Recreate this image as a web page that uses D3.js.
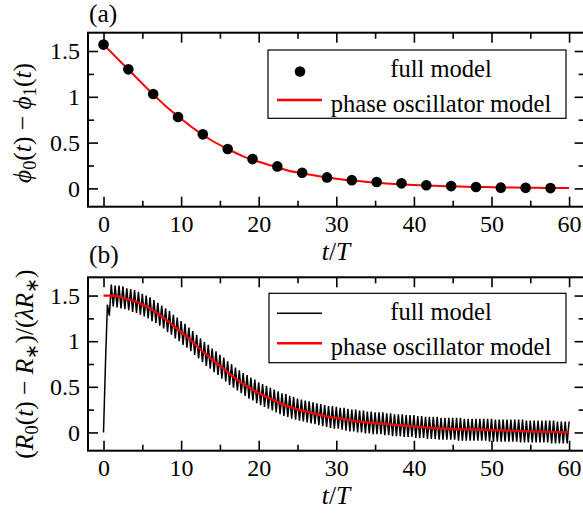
<!DOCTYPE html>
<html><head><meta charset="utf-8">
<script src="https://cdn.jsdelivr.net/npm/d3@7"></script>
<style>
body{margin:0;background:#fff}
svg{display:block}
text{font-family:"Liberation Serif","Times New Roman",serif;fill:#000}
</style>
</head><body>
<svg id="c" width="583" height="515"></svg>
<script>
// ---------- data ----------
const xTicks = [0, 10, 20, 30, 40, 50, 60];
const xMinorTicks = [5, 15, 25, 35, 45, 55];
const yTicks = [0, 0.5, 1, 1.5];
const yTickLabels = ["0", "0.5", "1", "1.5"];
const yMinorTicks = [0.25, 0.75, 1.25];
const legendLabels = ["full model", "phase oscillator model"];

// panel (a): full model (dots)
const dotTimes = [0, 3.2, 6.4, 9.6, 12.8, 16, 19.2, 22.4, 25.6, 28.8, 32, 35.2, 38.4, 41.6, 44.8, 48, 51.2, 54.4, 57.6];
const dotValues = [1.57, 1.30, 1.03, 0.78, 0.59, 0.43, 0.32, 0.24, 0.17, 0.12, 0.09, 0.07, 0.055, 0.035, 0.025, 0.015, 0.008, 0.006, 0.003];

// panel (a): phase oscillator model (red line)
const phaseATimes = [0,2,4,6,8,10,12,14,16,18,20,22,24,26,28,30,32,34,36,38,40,42,44,46,48,50,52,54,56,58,60];
const phaseAValues = [1.571,1.40,1.23,1.06,0.90,0.76,0.63,0.52,0.43,0.35,0.29,0.24,0.19,0.16,0.13,0.105,0.085,0.07,0.057,0.046,0.037,0.03,0.024,0.02,0.016,0.013,0.01,0.008,0.006,0.004,0.003];

// panel (b): phase oscillator model (red line)
const phaseBTimes = [0,1,2,3,4,5,6,7,8,9,10,11,12,13,14,15,16,17,18,19,20,21,22,23,24,25,26,27,28,29,30,32,34,36,38,40,42,44,46,48,50,52,54,56,58,60];
const phaseBValues = [1.50,1.50,1.49,1.46,1.44,1.40,1.36,1.30,1.24,1.17,1.10,1.03,0.95,0.87,0.80,0.73,0.66,0.59,0.53,0.48,0.43,0.39,0.35,0.31,0.28,0.25,0.23,0.21,0.19,0.17,0.16,0.13,0.11,0.095,0.08,0.065,0.05,0.04,0.035,0.03,0.025,0.02,0.015,0.01,0.005,0.0];

// panel (b): full model, sampled every 0.25 T (four samples per row = one T)
const fullStart = 0, fullStep = 0.25;
const fullValues = [
 0.00,0.75,1.40,1.28,
 1.62,1.38,1.61,1.37,
 1.61,1.36,1.60,1.35,
 1.58,1.34,1.57,1.32,
 1.56,1.31,1.54,1.29,
 1.52,1.27,1.50,1.25,
 1.48,1.22,1.45,1.20,
 1.42,1.17,1.39,1.14,
 1.36,1.10,1.33,1.07,
 1.29,1.03,1.26,1.00,
 1.22,0.96,1.19,0.93,
 1.15,0.89,1.11,0.85,
 1.07,0.81,1.03,0.77,
 0.99,0.73,0.96,0.70,
 0.92,0.66,0.89,0.63,
 0.85,0.59,0.82,0.56,
 0.78,0.52,0.75,0.49,
 0.71,0.46,0.68,0.43,
 0.65,0.40,0.63,0.37,
 0.60,0.35,0.58,0.32,
 0.55,0.30,0.53,0.28,
 0.51,0.26,0.49,0.24,
 0.47,0.22,0.45,0.20,
 0.43,0.18,0.42,0.17,
 0.40,0.15,0.39,0.14,
 0.37,0.13,0.36,0.12,
 0.35,0.11,0.34,0.10,
 0.33,0.09,0.32,0.08,
 0.31,0.07,0.30,0.06,
 0.29,0.05,0.29,0.04,
 0.28,0.04,0.27,0.03,
 0.27,0.02,0.26,0.01,
 0.25,0.01,0.25,0.00,
 0.24,0.00,0.24,-0.01,
 0.23,-0.01,0.23,-0.02,
 0.22,-0.02,0.22,-0.02,
 0.22,-0.03,0.21,-0.03,
 0.21,-0.04,0.20,-0.04,
 0.20,-0.04,0.20,-0.05,
 0.19,-0.05,0.19,-0.05,
 0.19,-0.06,0.18,-0.06,
 0.18,-0.06,0.17,-0.07,
 0.17,-0.07,0.17,-0.07,
 0.17,-0.08,0.16,-0.08,
 0.16,-0.08,0.16,-0.08,
 0.16,-0.08,0.16,-0.09,
 0.16,-0.09,0.15,-0.09,
 0.15,-0.09,0.15,-0.09,
 0.15,-0.09,0.15,-0.09,
 0.15,-0.09,0.15,-0.10,
 0.15,-0.10,0.14,-0.10,
 0.14,-0.10,0.14,-0.10,
 0.14,-0.10,0.14,-0.10,
 0.14,-0.10,0.14,-0.11,
 0.14,-0.11,0.13,-0.11,
 0.13,-0.11,0.13,-0.11,
 0.13,-0.11,0.13,-0.11,
 0.13,-0.11,0.13,-0.12,
 0.13,-0.12,0.12,-0.12,
 0.12,-0.12,0.12,-0.12,
 0.12
];

// ---------- drawing ----------
const svg = d3.select("#c");
const FS = 24;      // tick labels
const FL = 24.5;    // legend
const FT = 25.5;    // axis titles
const x = d3.scaleLinear().domain([-2, 62]).range([88, 584.6]);
const xLeft = x.range()[0], xRight = x.range()[1];

function panel(opt) {
  const y = d3.scaleLinear().domain([-0.2, 1.7]).range([opt.bottom, opt.top]);
  const g = svg.append("g");

  opt.draw(g, y);

  const fmtY = d => yTickLabels[yTicks.indexOf(d)];
  const styleAxis = sel => {
    sel.select(".domain").remove();
    sel.selectAll(".tick line").attr("stroke", "#000").attr("stroke-width", 1.6);
    sel.selectAll("text").style("font-size", FS + "px").attr("font-family", null);
  };
  g.append("g").attr("transform", `translate(0,${opt.bottom})`)
    .call(d3.axisBottom(x).tickValues(xTicks).tickSize(-10).tickPadding(8).tickFormat(d3.format("d"))).call(styleAxis);
  g.append("g").attr("transform", `translate(0,${opt.bottom})`)
    .call(d3.axisBottom(x).tickValues(xMinorTicks).tickSize(-6).tickFormat("")).call(styleAxis);
  g.append("g").attr("transform", `translate(0,${opt.top})`)
    .call(d3.axisTop(x).tickValues(xTicks).tickSize(-10).tickFormat("")).call(styleAxis);
  g.append("g").attr("transform", `translate(0,${opt.top})`)
    .call(d3.axisTop(x).tickValues(xMinorTicks).tickSize(-6).tickFormat("")).call(styleAxis);
  g.append("g").attr("transform", `translate(${xLeft},0)`)
    .call(d3.axisLeft(y).tickValues(yTicks).tickSize(-10).tickPadding(8).tickFormat(fmtY)).call(styleAxis);
  g.append("g").attr("transform", `translate(${xLeft},0)`)
    .call(d3.axisLeft(y).tickValues(yMinorTicks).tickSize(-6).tickFormat("")).call(styleAxis);
  g.append("g").attr("transform", `translate(${xRight},0)`)
    .call(d3.axisRight(y).tickValues(yTicks).tickSize(-10).tickFormat("")).call(styleAxis);
  g.append("g").attr("transform", `translate(${xRight},0)`)
    .call(d3.axisRight(y).tickValues(yMinorTicks).tickSize(-6).tickFormat("")).call(styleAxis);

  g.append("rect").attr("x", xLeft).attr("y", opt.top)
    .attr("width", xRight - xLeft).attr("height", opt.bottom - opt.top)
    .attr("fill", "none").attr("stroke", "#000").attr("stroke-width", 2);

  const L = opt.legend;
  g.append("rect").attr("x", L.x0).attr("y", L.y0).attr("width", L.x1 - L.x0).attr("height", L.y1 - L.y0)
    .attr("fill", "#fff").attr("stroke", "#000").attr("stroke-width", 1.2);
  opt.legendKey(g, L);
  g.append("text").attr("x", 441).attr("y", L.y0 + 27).attr("text-anchor", "middle")
    .style("font-size", FL + "px").text(legendLabels[0]);
  g.append("text").attr("x", 441).attr("y", L.y0 + 62).attr("text-anchor", "middle")
    .style("font-size", FL + "px").text(legendLabels[1]);

  const xt = g.append("text").attr("x", 336).attr("y", opt.bottom + opt.xTitleGap).attr("text-anchor", "middle")
    .style("font-size", FT + "px");
  xt.append("tspan").attr("font-style", "italic").text("t");
  xt.append("tspan").text("/");
  xt.append("tspan").attr("font-style", "italic").text("T");

  g.append("text").attr("x", 89).attr("y", opt.tagY).style("font-size", FT + "px").text(opt.tag);

  const yt = g.append("text").attr("transform", `translate(${opt.ylx},${opt.yly}) rotate(-90)`)
    .attr("text-anchor", "middle").style("font-size", FT + "px");
  opt.yTitle(yt);
  return y;
}

const sub = (t, s) => t.append("tspan").attr("baseline-shift", "-25%").style("font-size", (FT * 0.72) + "px").text(s);
const plain = (t, s, it) => t.append("tspan").attr("baseline-shift", "0%").attr("font-style", it ? "italic" : "normal").style("font-size", FT + "px").text(s);

// Panel (a)
panel({
  top: 32.7, bottom: 206.7, tag: "(a)", tagY: 22, xTitleGap: 53, ylx: 31, yly: 123,
  legend: {x0: 268, y0: 50, x1: 566, y1: 118.3},
  draw: (g, y) => {
    g.append("path").datum(phaseATimes.map((t, i) => [t, phaseAValues[i]]))
      .attr("fill", "none").attr("stroke", "#f00").attr("stroke-width", 2)
      .attr("d", d3.line().x(d => x(d[0])).y(d => y(d[1])).curve(d3.curveMonotoneX));
    g.selectAll("circle.dot").data(dotTimes.map((t, i) => [t, dotValues[i]])).join("circle")
      .attr("class", "dot").attr("cx", d => x(d[0])).attr("cy", d => y(d[1])).attr("r", 5.3).attr("fill", "#000");
  },
  legendKey: (g, L) => {
    g.append("circle").attr("cx", 300).attr("cy", L.y0 + 21.5).attr("r", 5.3).attr("fill", "#000");
    g.append("line").attr("x1", 277).attr("x2", 322).attr("y1", L.y0 + 50).attr("y2", L.y0 + 50)
      .attr("stroke", "#f00").attr("stroke-width", 2.5);
  },
  yTitle: t => {
    plain(t, "ϕ", true); sub(t, "0"); plain(t, "(", false); plain(t, "t", true); plain(t, ") − ", false);
    plain(t, "ϕ", true); sub(t, "1"); plain(t, "(", false); plain(t, "t", true); plain(t, ")", false);
  }
});

// Panel (b)
panel({
  top: 277.3, bottom: 450.7, tag: "(b)", tagY: 263, xTitleGap: 53, ylx: 33, yly: 364,
  legend: {x0: 269, y0: 293.3, x1: 566, y1: 362.7},
  draw: (g, y) => {
    const pts = fullValues.map((v, i) => [fullStart + i * fullStep, v]);
    g.append("path").datum(pts)
      .attr("fill", "none").attr("stroke", "#000").attr("stroke-width", 1.5)
      .attr("d", d3.line().x(d => x(d[0])).y(d => y(d[1])));
    g.append("path").datum(phaseBTimes.map((t, i) => [t, phaseBValues[i]]))
      .attr("fill", "none").attr("stroke", "#f00").attr("stroke-width", 2.2)
      .attr("d", d3.line().x(d => x(d[0])).y(d => y(d[1])).curve(d3.curveMonotoneX));
  },
  legendKey: (g, L) => {
    g.append("line").attr("x1", 277).attr("x2", 322).attr("y1", L.y0 + 20).attr("y2", L.y0 + 20)
      .attr("stroke", "#000").attr("stroke-width", 1.6);
    g.append("line").attr("x1", 277).attr("x2", 322).attr("y1", L.y0 + 50).attr("y2", L.y0 + 50)
      .attr("stroke", "#f00").attr("stroke-width", 2.5);
  },
  yTitle: t => {
    plain(t, "(", false); plain(t, "R", true); sub(t, "0"); plain(t, "(", false); plain(t, "t", true);
    plain(t, ") − ", false); plain(t, "R", true); sub(t, "∗"); plain(t, ")/(", false);
    plain(t, "λR", true); sub(t, "∗"); plain(t, ")", false);
  }
});
</script>
</body></html>
